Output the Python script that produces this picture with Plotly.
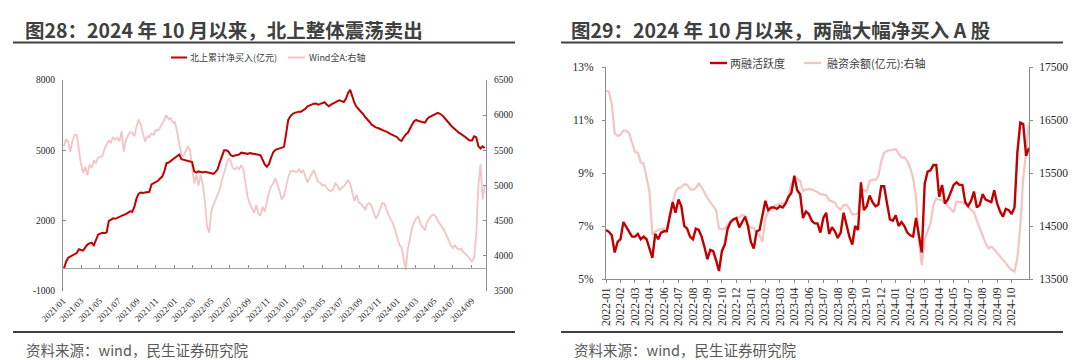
import plotly.graph_objects as go
import pandas as pd

W, H = 1080, 360
def px(x): return x / W
def py(y): return 1 - y / H

RED = "#C00000"
PINK = "#F2C4C4"
AX = "#8C8C8C"
TXT = "#262626"
SERIF = "Liberation Serif, DejaVu Serif, serif"
CJK = "Noto Sans CJK SC, sans-serif"

# ---------------- left chart (weekly) ----------------
nb_start = "2021-01-04"
northbound = [
    -50, 250, 420, 470, 500, 550, 620, 780, 760, 720,
    860, 980, 1030, 1060, 950, 1200, 1400, 1450, 1480, 1470,
    1500, 1980, 2050, 2100, 2080, 2130, 2150, 2200, 2250, 2280,
    2350, 2400, 2380, 2600, 2950, 3150, 3200, 3180, 3200, 3220,
    3230, 3550, 3600, 3650, 3700, 3800, 3880, 4100, 4450, 4480,
    4550, 4620, 4700, 4780, 4820, 4620, 4600, 4580, 4560, 4540,
    4500, 4100, 4050, 4100, 4080, 4060, 4090, 4060, 4050, 4020,
    4000, 4080, 4200, 4500, 4750, 5000, 5000, 4950, 4800, 4750,
    4780, 4800, 4820, 4900, 4880, 4870, 4850, 4880, 4860, 4860,
    4850, 4830, 4800, 4600, 4400, 4300, 4420, 4700, 4920, 5020,
    5050, 5080, 5100, 5150, 5700, 6300, 6450, 6550, 6600, 6630,
    6650, 6650, 6700, 6770, 6880, 6920, 6950, 6990, 7000, 6950,
    6980, 7010, 7050, 6950, 6880, 6950, 7020, 7050, 7100, 7130,
    7100, 7060, 7200, 7450, 7580, 7300, 7020, 6850, 6750, 6680,
    6550, 6420, 6330, 6220, 6100, 6030, 5980, 5950, 5900, 5880,
    5830, 5800, 5730, 5690, 5650, 5620, 5560, 5450, 5400, 5550,
    5680, 5750, 5950, 6100, 6250, 6300, 6250, 6220, 6200, 6180,
    6330, 6420, 6460, 6500, 6550, 6600, 6560, 6500, 6400, 6280,
    6150, 6080, 5980, 5900, 5800, 5740, 5690, 5640, 5560, 5480,
    5420, 5420, 5600, 5560, 5180, 5080, 5170, 5100,
]
wind_a = [
    5560, 5660, 5620, 5480, 5640, 5720, 5720, 5500, 5300, 5180,
    5270, 5150, 5300, 5250, 5350, 5320, 5400, 5400, 5420, 5520,
    5590, 5640, 5610, 5690, 5650, 5680, 5630, 5770, 5480, 5640,
    5710, 5760, 5750, 5700, 5840, 5940, 5860, 5730, 5620, 5700,
    5690, 5740, 5720, 5790, 5780, 5820, 5880, 5930, 6000, 5940,
    5960, 5890, 5900, 5760, 5600, 5430, 5420, 5500, 5550, 5510,
    5300, 5030, 5150, 5000, 5150, 5020, 4780, 4420, 4330, 4640,
    4720, 4790, 4860, 4950, 5080, 5190, 5310, 5390, 5350, 5250,
    5230, 5260, 5230, 5290, 5230, 5050, 4840, 4740, 4680, 4610,
    4720, 4600, 4570, 4700, 4630, 4780, 4900, 4990, 5030, 5100,
    5020, 4920, 4800, 4850, 4980, 5120, 5200, 5210, 5200, 5190,
    5230, 5180, 5220, 5120, 5040, 5110, 5170, 5220, 5130, 5050,
    5040, 5000, 5010, 4970, 4930, 4920, 4940, 5030, 5000, 4940,
    4960, 4990, 5030, 5080, 5020, 4880, 4780, 4870, 4760, 4740,
    4700, 4660, 4730, 4750, 4710, 4620, 4530, 4580, 4680, 4750,
    4740, 4650, 4580, 4520, 4460, 4370, 4260, 4160, 4120, 3950,
    3800, 4100, 4280, 4400, 4480, 4540, 4560, 4440, 4410, 4360,
    4480, 4520, 4570, 4590, 4560, 4500, 4460, 4410, 4360, 4290,
    4210, 4160, 4110, 4150, 4110, 4090, 4100, 4050, 4030, 3990,
    3950, 3920, 3970, 4300, 5000, 5300, 4800, 5000,
]
nb_dates = pd.date_range(nb_start, periods=len(northbound), freq="7D")
nb_ticks = [-1000, 2000, 5000, 8000]
wind_ticks = [3500, 4000, 4500, 5000, 5500, 6000, 6500]

# ---------------- right chart (weekly) ----------------
margin_labels = [
    "2022-01", "2022-02", "2022-03", "2022-04", "2022-06", "2022-07", "2022-08",
    "2022-09", "2022-10", "2022-12", "2023-01", "2023-02", "2023-03", "2023-04",
    "2023-06", "2023-07", "2023-08", "2023-09", "2023-10", "2023-12", "2024-01",
    "2024-02", "2024-03", "2024-04", "2024-05", "2024-07", "2024-08", "2024-09",
    "2024-10",
]
activity = [
    6.85, 6.78, 6.65, 6.0, 6.4, 6.5, 7.15, 6.95, 6.75, 6.6,
    6.6, 6.7, 6.5, 6.6, 6.5, 6.15, 5.8, 6.7, 6.5, 6.75,
    6.8, 6.8, 7.4, 7.9, 7.5, 8.0, 7.75, 7.0, 6.9, 6.6,
    6.5, 6.9, 6.85, 6.6, 6.2, 5.75, 6.1, 6.05, 5.7, 5.3,
    6.05, 6.3, 6.9, 7.15, 7.25, 7.3, 6.95, 7.15, 7.35, 7.0,
    6.4, 6.15, 6.8, 6.85, 7.35, 7.95, 7.6, 7.7, 7.7, 7.65,
    7.75, 7.7, 7.85, 8.1, 8.25, 8.9, 8.35, 8.2, 7.3, 7.55,
    7.45, 7.2, 7.1, 7.1, 6.75, 7.3, 7.5, 6.7, 6.95, 6.8,
    6.55, 6.75, 7.5, 7.05, 6.6, 6.3, 7.0, 6.85, 8.65, 7.6,
    7.75, 8.15, 7.9, 7.75, 7.8, 8.5, 8.5, 7.85, 7.25, 7.2,
    7.4, 7.0, 7.15, 7.0, 6.75, 6.65, 6.6, 7.3, 6.6, 6.0,
    8.6, 9.05, 9.1, 9.3, 9.3, 8.1, 8.55, 7.85, 8.0, 8.25,
    8.55, 8.65, 8.55, 8.55, 7.9, 7.75, 7.95, 8.3, 7.7, 7.8,
    8.2, 8.0, 7.95, 7.9, 8.35, 7.85, 7.55, 7.35, 7.65, 7.6,
    7.45, 7.7, 9.8, 10.9, 10.85, 9.65, 9.95,
]
financing = [
    17050, 17030, 16800, 16250, 16200, 16220, 16300, 16300, 16250, 16050,
    15900, 15880, 15700, 15680, 15420, 15150, 14330, 14400, 14420, 14440,
    14440, 14450, 14700, 14900, 15150, 15220, 15230, 15290, 15280, 15200,
    15180, 15220, 15300, 15230, 15120, 15030, 14950, 14880, 14800, 14450,
    14440, 14450, 14530, 14580, 14620, 14660, 14660, 14710, 14700, 14520,
    14470, 14470, 14350, 14330, 14200, 14640, 14760, 14830, 14880, 14900,
    14910, 14920, 14940, 15080, 15300, 15370, 15400, 15350, 15160, 15190,
    15200, 15190, 15170, 15140, 15100, 15090, 15080, 14990, 14970, 14940,
    14850, 14810, 14890, 14900, 14830, 14720, 14720, 14740, 15160, 15180,
    15150, 15350, 15370, 15370, 15440, 15720, 15880, 15920, 15930, 15940,
    15950, 15870, 15790, 15800, 15720, 15600, 15400, 15050, 14200, 13760,
    14250, 14400, 14550, 14900, 15020, 15000, 14980, 14930, 14880, 14820,
    14760, 14960, 14950, 14950, 14900, 14850, 14800, 14760, 14600, 14450,
    14300, 14180, 14080, 14110, 14060, 14000, 13920, 13860, 13800, 13720,
    13670, 13640, 13900, 14500, 15400, 15900, 16450,
]
week_idx = list(range(len(activity)))
label_every = 5
act_ticks = [5, 7, 9, 11, 13]
fin_ticks = [13500, 14500, 15500, 16500, 17500]

# ---------------- geometry ----------------
L_X0, L_X1, L_Y0, L_Y1 = px(55), px(478), py(283), py(72)
R_X0, R_X1, R_Y0, R_Y1 = px(598), px(1021), py(271), py(59)
nb_lo, nb_hi = -1000, 8000
zero_pos = L_Y0 + (L_Y1 - L_Y0) * (0 - nb_lo) / (nb_hi - nb_lo)

fig = go.Figure()
fig.add_trace(go.Scatter(x=nb_dates, y=wind_a, xaxis="x", yaxis="y", mode="lines",
                         line=dict(color=PINK, width=1.8), showlegend=False))
fig.add_trace(go.Scatter(x=nb_dates, y=northbound, xaxis="x", yaxis="y2", mode="lines",
                         line=dict(color=RED, width=2), showlegend=False))
# carrier of the bottom date labels of the left chart (no visible marks)
fig.add_trace(go.Scatter(x=nb_dates[:1], y=[None], xaxis="x3", yaxis="y", mode="lines",
                         showlegend=False, hoverinfo="skip"))
fig.add_trace(go.Scatter(x=week_idx, y=financing, xaxis="x2", yaxis="y3", mode="lines",
                         line=dict(color=PINK, width=2.2), showlegend=False))
fig.add_trace(go.Scatter(x=week_idx, y=activity, xaxis="x2", yaxis="y4", mode="lines",
                         line=dict(color=RED, width=2.4), showlegend=False))

tickfont_l = dict(family=SERIF, size=9.5, color=TXT)
tickfont_r = dict(family=SERIF, size=11.5, color=TXT)
date_range = ["2021-01-01", "2024-10-18"]

common = dict(automargin=False, showgrid=False, zeroline=False)

fig.update_layout(
    template="none",
    width=W, height=H, margin=dict(l=0, r=0, t=0, b=0, pad=0, autoexpand=False),
    paper_bgcolor="white", plot_bgcolor="rgba(0,0,0,0)",
    xaxis=dict(domain=[L_X0, L_X1], anchor="free", position=zero_pos,
               type="date", range=date_range, tick0="2021-01-01", dtick="M2",
               ticks="inside", ticklen=3, tickcolor=AX, showline=True, linecolor="#A6A6A6",
               linewidth=1, showticklabels=False, **common),
    xaxis3=dict(overlaying="x", anchor="y", side="bottom", type="date", range=date_range,
                tick0="2021-01-01", dtick="M2", tickformat="%Y/%m", tickangle=-45,
                ticks="", showline=False, showticklabels=True, ticklabelstandoff=2,
                tickfont=dict(family=SERIF, size=9, color=TXT), **common),
    yaxis=dict(domain=[L_Y0, L_Y1], anchor="x", side="right", range=[3500, 6500],
               tickvals=wind_ticks, ticktext=[str(v) for v in wind_ticks],
               ticks="inside", ticklen=3, tickcolor=AX, showline=True, linecolor=AX,
               ticklabelstandoff=5, tickfont=tickfont_l, **common),
    yaxis2=dict(overlaying="y", anchor="x", side="left", range=[nb_lo, nb_hi],
                tickvals=nb_ticks, ticktext=[str(v) for v in nb_ticks],
                ticks="inside", ticklen=3, tickcolor=AX, showline=True, linecolor=AX,
                ticklabelstandoff=5, tickfont=tickfont_l, **common),
    xaxis2=dict(domain=[R_X0, R_X1], anchor="y3", range=[0, len(activity) - 1],
                tickvals=week_idx[::label_every][:len(margin_labels)], ticktext=margin_labels,
                tickangle=-90, ticks="outside", ticklen=3, tickcolor=AX, showline=True,
                linecolor=AX, tickfont=tickfont_r, **common),
    yaxis3=dict(domain=[R_Y0, R_Y1], anchor="x2", side="right", range=[13500, 17500],
                tickvals=fin_ticks, ticktext=[str(v) for v in fin_ticks],
                ticks="outside", ticklen=3, tickcolor=AX, showline=True, linecolor=AX,
                ticklabelstandoff=4, tickfont=tickfont_r, **common),
    yaxis4=dict(overlaying="y3", anchor="x2", side="left", range=[5, 13],
                tickvals=act_ticks, ticktext=[f"{v}%" for v in act_ticks],
                ticks="outside", ticklen=3, tickcolor=AX, showline=True, linecolor=AX,
                ticklabelstandoff=6, tickfont=tickfont_r, **common),
)

shapes = []
annotations = []
DARK = "#404040"

def hline(x0, x1, y, color, width):
    shapes.append(dict(type="line", xref="paper", yref="paper", x0=px(x0), x1=px(x1),
                       y0=py(y), y1=py(y), line=dict(color=color, width=width)))

def text(x, y, s, size, color, anchor="left", weight="normal", family=CJK):
    annotations.append(dict(x=px(x), y=py(y), xref="paper", yref="paper", text=s,
                            showarrow=False, xanchor=anchor, yanchor="middle", borderpad=0,
                            font=dict(family=family, size=size, color=color, weight=weight)))

# titles + rules
text(16, 21.5, "图28：2024 年 10 月以来，北上整体震荡卖出", 19.5, DARK, weight="bold")
text(562, 21.5, "图29：2024 年 10 月以来，两融大幅净买入 A 股", 19.5, DARK, weight="bold")
hline(5, 507, 34.5, DARK, 2)
hline(553, 1055, 34.5, DARK, 2)
hline(5, 507, 324, DARK, 2)
hline(553, 1055, 324, DARK, 2)
text(17, 341, "资料来源：wind，民生证券研究院", 14.5, "#595959")
text(565, 341, "资料来源：wind，民生证券研究院", 14.5, "#595959")

# legends
hline(163, 179, 49.5, RED, 2)
text(181, 49.5, "北上累计净买入(亿元)", 9, DARK)
hline(280, 297, 49.5, PINK, 2)
text(300, 49.5, "Wind全A:右轴", 9, DARK)
hline(702, 719, 55, RED, 2.4)
text(721, 55, "两融活跃度", 11, DARK)
hline(796, 813, 55, PINK, 2.2)
text(818, 55, "融资余额(亿元):右轴", 11, DARK)

fig.update_layout(shapes=shapes, annotations=annotations)
fig.write_html("out.html")
